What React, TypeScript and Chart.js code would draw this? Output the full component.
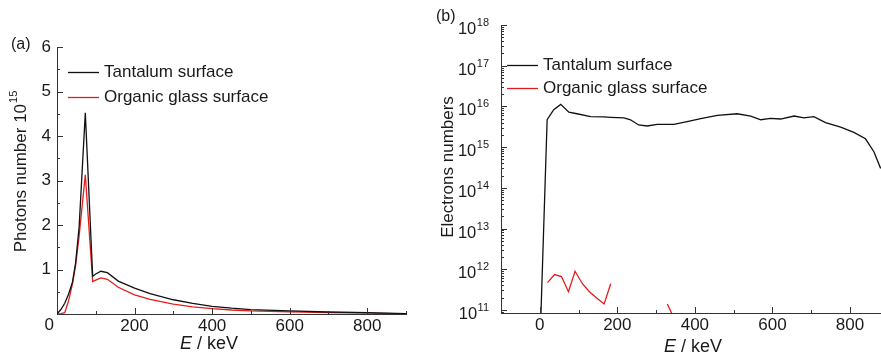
import React, { useEffect, useRef } from 'react';
import { Chart, registerables } from 'chart.js';

Chart.register(...registerables);

// ---------- Data: panel (a) photons ----------
const photonEnergy = [0, 10, 20, 30, 40, 48, 57, 73, 92, 100, 113, 130, 158, 200, 240, 300, 350, 400, 450, 500, 600, 700, 800, 900];
const photonTantalum = [0, 0.1, 0.24, 0.45, 0.72, 1.15, 1.95, 4.52, 0.85, 0.9, 0.96, 0.93, 0.74, 0.58, 0.46, 0.32, 0.24, 0.17, 0.13, 0.1, 0.07, 0.045, 0.03, 0.01];
const photonGlass = [0, 0.01, 0.03, 0.3, 0.68, 1.1, 1.75, 3.13, 0.73, 0.76, 0.81, 0.78, 0.6, 0.43, 0.33, 0.22, 0.16, 0.12, 0.09, 0.07, 0.05, 0.03, 0.02, 0.005];
const photonXTicks = [200, 400, 600, 800];
const photonXMinor = [100, 300, 500, 700, 900];
const photonYTicks = [1, 2, 3, 4, 5, 6];
const photonYMinor = [0.5, 1.5, 2.5, 3.5, 4.5, 5.5];

// ---------- Data: panel (b) electrons ----------
const electronEnergyTa = [0, 19, 36, 54, 75, 96, 131, 165, 183, 217, 234, 255, 277, 303, 346, 389, 415, 458, 509, 544, 570, 595, 621, 656, 681, 707, 737, 776, 810, 840, 862, 879];
const electronTa = [1e10, 4.7e15, 8.3e15, 1.12e16, 7.2e15, 6.6e15, 5.6e15, 5.5e15, 5.4e15, 5.2e15, 4.7e15, 3.5e15, 3.3e15, 3.6e15, 3.6e15, 4.4e15, 5.0e15, 6.0e15, 6.6e15, 5.8e15, 4.7e15, 5.1e15, 4.9e15, 5.8e15, 5.2e15, 5.6e15, 4.0e15, 3.1e15, 2.3e15, 1.6e15, 7.6e14, 3.0e14];
const electronEnergyGlass = [20, 38, 56, 74, 91, 110, 128, 146, 166, 183, 250, 329, 347];
const electronGlass = [4.7e11, 7.4e11, 6.6e11, 2.8e11, 8.9e11, 4.4e11, 2.8e11, 2.0e11, 1.4e11, 4.4e11, null, 1.4e11, 6e10];
const electronXTicks = [0, 200, 400, 600, 800];
const electronXMinor = [100, 300, 500, 700];
const electronYExponents = [11, 12, 13, 14, 15, 16, 17, 18];

const seriesLabels = ['Tantalum surface', 'Organic glass surface'];

// ---------- Styles ----------
const FONT = '"Liberation Sans", Arial, Helvetica, sans-serif';
const AXIS_COLOR = '#333333';
const TEXT_COLOR = '#1a1a1a';
const BLACK = '#111111';
const RED = '#e41c1c';

function drawTickMarks(chart: any, xMajor: number[], xMinor: number[], yMajor: number[], yMinor: number[]) {
  const ctx = chart.ctx as CanvasRenderingContext2D;
  const { left, bottom, right, top } = chart.chartArea;
  const xs = chart.scales.x;
  const ys = chart.scales.y;
  ctx.save();
  ctx.strokeStyle = AXIS_COLOR;
  ctx.lineWidth = 1;
  ctx.beginPath();
  const xl = (v: number, len: number) => {
    const p = Math.round(xs.getPixelForValue(v)) + 0.5;
    if (p < left - 1 || p > right + 1) return;
    ctx.moveTo(p, bottom);
    ctx.lineTo(p, bottom - len);
  };
  const yl = (v: number, len: number) => {
    const p = Math.round(ys.getPixelForValue(v)) + 0.5;
    if (p < top - 1 || p > bottom + 1) return;
    ctx.moveTo(left, p);
    ctx.lineTo(left + len, p);
  };
  xMajor.forEach((v) => xl(v, 6));
  xMinor.forEach((v) => xl(v, 3));
  yMajor.forEach((v) => yl(v, 6));
  yMinor.forEach((v) => yl(v, 3));
  ctx.stroke();
  ctx.restore();
}

function drawLegend(chart: any, x: number, y0: number, gap: number) {
  const ctx = chart.ctx as CanvasRenderingContext2D;
  ctx.save();
  chart.data.datasets.forEach((ds: any, i: number) => {
    const y = y0 + i * gap;
    ctx.strokeStyle = ds.borderColor;
    ctx.lineWidth = 1.3;
    ctx.beginPath();
    ctx.moveTo(x, y + 0.5);
    ctx.lineTo(x + 31, y + 0.5);
    ctx.stroke();
    ctx.fillStyle = TEXT_COLOR;
    ctx.font = `17px ${FONT}`;
    ctx.textAlign = 'left';
    ctx.textBaseline = 'middle';
    ctx.fillText(ds.label, x + 36, y);
  });
  ctx.restore();
}

function drawXTitle(chart: any, cx: number, cy: number) {
  const ctx = chart.ctx as CanvasRenderingContext2D;
  ctx.save();
  ctx.fillStyle = TEXT_COLOR;
  ctx.textBaseline = 'middle';
  ctx.textAlign = 'left';
  ctx.font = `italic 18px ${FONT}`;
  const wE = ctx.measureText('E').width;
  ctx.font = `18px ${FONT}`;
  const wRest = ctx.measureText(' / keV').width;
  const start = cx - (wE + wRest) / 2;
  ctx.font = `italic 18px ${FONT}`;
  ctx.fillText('E', start, cy);
  ctx.font = `18px ${FONT}`;
  ctx.fillText(' / keV', start + wE, cy);
  ctx.restore();
}

function drawPanelLabel(chart: any, text: string, x: number, y: number) {
  const ctx = chart.ctx as CanvasRenderingContext2D;
  ctx.save();
  ctx.fillStyle = TEXT_COLOR;
  ctx.font = `16px ${FONT}`;
  ctx.textAlign = 'left';
  ctx.textBaseline = 'middle';
  ctx.fillText(text, x, y);
  ctx.restore();
}

const decorA = {
  id: 'decorA',
  afterDraw(chart: any) {
    const ctx = chart.ctx as CanvasRenderingContext2D;
    drawTickMarks(chart, photonXTicks, photonXMinor, photonYTicks, photonYMinor);
    drawPanelLabel(chart, '(a)', 11, 45);
    // corner zero
    ctx.save();
    ctx.fillStyle = TEXT_COLOR;
    ctx.font = `17px ${FONT}`;
    ctx.textAlign = 'right';
    ctx.textBaseline = 'middle';
    ctx.fillText('0', 54, 325);
    ctx.restore();
    // y title with superscript
    ctx.save();
    ctx.translate(21, 172);
    ctx.rotate(-Math.PI / 2);
    ctx.fillStyle = TEXT_COLOR;
    ctx.font = `17px ${FONT}`;
    const base = 'Photons number 10';
    const wb = ctx.measureText(base).width;
    ctx.font = `11px ${FONT}`;
    const ws = ctx.measureText('15').width;
    const start = -(wb + ws) / 2;
    ctx.textAlign = 'left';
    ctx.textBaseline = 'middle';
    ctx.font = `17px ${FONT}`;
    ctx.fillText(base, start, 0);
    ctx.font = `11px ${FONT}`;
    ctx.fillText('15', start + wb + 1, -7);
    ctx.restore();
    drawLegend(chart, 68, 72, 25);
    drawXTitle(chart, 209, 344);
  },
};

const decorB = {
  id: 'decorB',
  afterDraw(chart: any) {
    const ctx = chart.ctx as CanvasRenderingContext2D;
    const ys = chart.scales.y;
    const minorLog: number[] = [];
    electronYExponents.slice(0, -1).forEach((e) => {
      for (let m = 2; m <= 9; m++) minorLog.push(m * Math.pow(10, e));
    });
    minorLog.push(9e10);
    drawTickMarks(chart, electronXTicks, electronXMinor, electronYExponents.map((e) => Math.pow(10, e)), minorLog);
    drawPanelLabel(chart, '(b)', 6, 17);
    // log tick labels
    ctx.save();
    ctx.fillStyle = TEXT_COLOR;
    ctx.textBaseline = 'alphabetic';
    ctx.textAlign = 'left';
    electronYExponents.forEach((e) => {
      const py = ys.getPixelForValue(Math.pow(10, e));
      const sup = String(e);
      ctx.font = `11px ${FONT}`;
      const ws = ctx.measureText(sup).width;
      ctx.font = `16.5px ${FONT}`;
      const wb = ctx.measureText('10').width;
      const rightEdge = 59;
      const start = rightEdge - ws - wb - 0.5;
      ctx.fillText('10', start, py + 9);
      ctx.font = `11px ${FONT}`;
      ctx.fillText(sup, start + wb + 0.5, py + 1);
    });
    ctx.restore();
    // y title
    ctx.save();
    ctx.translate(18, 167);
    ctx.rotate(-Math.PI / 2);
    ctx.fillStyle = TEXT_COLOR;
    ctx.font = `17px ${FONT}`;
    ctx.textAlign = 'center';
    ctx.textBaseline = 'middle';
    ctx.fillText('Electrons numbers', 0, 0);
    ctx.restore();
    drawLegend(chart, 77, 65, 23);
    drawXTitle(chart, 263, 347);
  },
};

function lineDataset(label: string, xs: number[], ys: (number | null)[], color: string) {
  return {
    label,
    data: xs.map((x, i) => ({ x, y: ys[i] })),
    borderColor: color,
    backgroundColor: color,
    borderWidth: 1.3,
    pointRadius: 0,
    tension: 0,
    spanGaps: false,
  };
}

function configA(): any {
  return {
    type: 'line',
    data: {
      datasets: [
        lineDataset(seriesLabels[0], photonEnergy, photonTantalum, BLACK),
        lineDataset(seriesLabels[1], photonEnergy, photonGlass, RED),
      ],
    },
    options: {
      animation: false,
      responsive: false,
      devicePixelRatio: 1,
      layout: { padding: { left: 0, top: 47, right: 24, bottom: 0 } },
      plugins: { legend: { display: false }, tooltip: { enabled: false } },
      scales: {
        x: {
          type: 'linear',
          min: 0,
          max: 900,
          afterBuildTicks: (s: any) => {
            s.ticks = photonXTicks.map((v) => ({ value: v }));
          },
          afterFit: (s: any) => {
            s.height = 43;
          },
          grid: { display: false, drawTicks: false },
          border: { display: true, color: AXIS_COLOR, width: 1 },
          ticks: { font: { family: FONT, size: 17 }, color: TEXT_COLOR, padding: 2, maxRotation: 0, autoSkip: false },
        },
        y: {
          type: 'linear',
          min: 0,
          max: 6,
          afterBuildTicks: (s: any) => {
            s.ticks = photonYTicks.map((v) => ({ value: v }));
          },
          afterFit: (s: any) => {
            s.width = 57;
          },
          grid: { display: false, drawTicks: false },
          border: { display: true, color: AXIS_COLOR, width: 1 },
          ticks: { font: { family: FONT, size: 17 }, color: TEXT_COLOR, padding: 6, autoSkip: false },
        },
      },
    },
    plugins: [decorA],
  };
}

function configB(): any {
  return {
    type: 'line',
    data: {
      datasets: [
        lineDataset(seriesLabels[0], electronEnergyTa, electronTa, BLACK),
        lineDataset(seriesLabels[1], electronEnergyGlass, electronGlass, RED),
      ],
    },
    options: {
      animation: false,
      responsive: false,
      devicePixelRatio: 1,
      layout: { padding: { left: 0, top: 25, right: 0, bottom: 0 } },
      plugins: { legend: { display: false }, tooltip: { enabled: false } },
      scales: {
        x: {
          type: 'linear',
          min: -100,
          max: 880,
          afterBuildTicks: (s: any) => {
            s.ticks = electronXTicks.map((v) => ({ value: v }));
          },
          afterFit: (s: any) => {
            s.height = 44;
          },
          grid: { display: false, drawTicks: false },
          border: { display: true, color: AXIS_COLOR, width: 1 },
          ticks: { font: { family: FONT, size: 17 }, color: TEXT_COLOR, padding: 2, maxRotation: 0, autoSkip: false },
        },
        y: {
          type: 'logarithmic',
          min: 8.4e10,
          max: 1e18,
          afterFit: (s: any) => {
            s.width = 71;
          },
          grid: { display: false, drawTicks: false },
          border: { display: true, color: AXIS_COLOR, width: 1 },
          ticks: { display: false },
        },
      },
    },
    plugins: [decorB],
  };
}

export default function App() {
  const refA = useRef<HTMLCanvasElement>(null);
  const refB = useRef<HTMLCanvasElement>(null);
  useEffect(() => {
    const a = new Chart(refA.current as HTMLCanvasElement, configA());
    const b = new Chart(refB.current as HTMLCanvasElement, configB());
    return () => {
      a.destroy();
      b.destroy();
    };
  }, []);
  return (
    <div style={{ position: 'absolute', left: 0, top: 0, width: 881, height: 357, background: '#ffffff', overflow: 'hidden' }}>
      <canvas ref={refA} width={430} height={357} style={{ position: 'absolute', left: 0, top: 0 }} />
      <canvas ref={refB} width={451} height={357} style={{ position: 'absolute', left: 430, top: 0 }} />
    </div>
  );
}
